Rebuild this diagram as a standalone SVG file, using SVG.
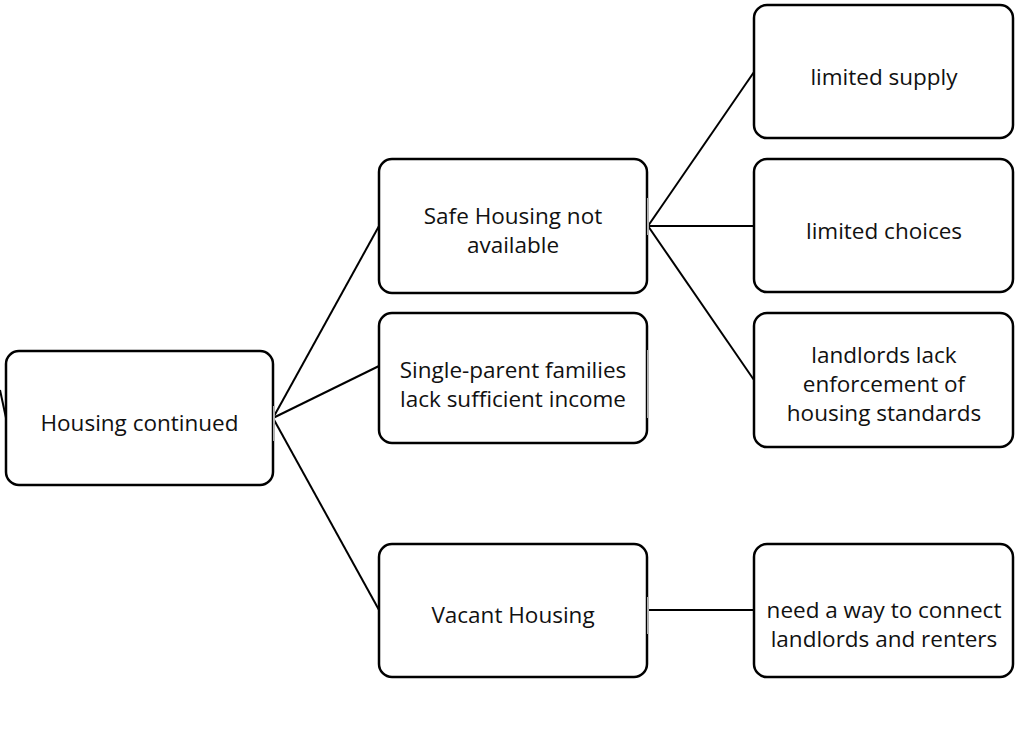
<svg xmlns="http://www.w3.org/2000/svg" width="1015" height="754" viewBox="0 0 1015 754">
  <style>
    .box { fill: #ffffff; stroke: #000000; stroke-width: 2.5; }
    .conn { stroke: #000000; stroke-width: 2; fill: none; }
    .tick { stroke: #b0b0b0; stroke-width: 2; }
    text { font-family: "Open Sans", "Noto Sans", sans-serif; font-size: 22.5px; fill: #111111; text-anchor: middle; }
  </style>
  <rect width="1015" height="754" fill="#ffffff"/>
  <g id="connectors">
    <line class="conn" x1="0" y1="390" x2="6" y2="418"/>
    <line class="conn" x1="273" y1="418" x2="379" y2="226"/>
    <line class="conn" x1="273" y1="418" x2="379" y2="366"/>
    <line class="conn" x1="273" y1="418" x2="379" y2="610"/>
    <line class="conn" x1="648" y1="226" x2="754" y2="72"/>
    <line class="conn" x1="648" y1="226" x2="754" y2="226"/>
    <line class="conn" x1="648" y1="226" x2="754" y2="380"/>
    <line class="conn" x1="648" y1="610" x2="754" y2="610"/>
  </g>
  <g id="node-housing-continued">
    <rect class="box" x="6" y="351" width="267" height="134" rx="13"/>
    <line class="tick" x1="274" y1="406" x2="274" y2="441"/>
    <text x="139.5" y="431">Housing continued</text>
  </g>
  <g id="node-safe-housing">
    <rect class="box" x="379" y="159" width="268" height="134" rx="13"/>
    <line class="tick" x1="648" y1="198" x2="648" y2="235"/>
    <text x="513" y="224">Safe Housing not</text>
    <text x="513" y="253">available</text>
  </g>
  <g id="node-single-parent">
    <rect class="box" x="379" y="313" width="268" height="130" rx="13"/>
    <line class="tick" x1="648" y1="350" x2="648" y2="418"/>
    <text x="513" y="378">Single-parent families</text>
    <text x="513" y="407">lack sufficient income</text>
  </g>
  <g id="node-vacant-housing">
    <rect class="box" x="379" y="544" width="268" height="133" rx="13"/>
    <line class="tick" x1="648" y1="597" x2="648" y2="634"/>
    <text x="513" y="623">Vacant Housing</text>
  </g>
  <g id="node-limited-supply">
    <rect class="box" x="754" y="5" width="259" height="133" rx="13"/>
    <text x="884" y="85">limited supply</text>
  </g>
  <g id="node-limited-choices">
    <rect class="box" x="754" y="159" width="259" height="133" rx="13"/>
    <text x="884" y="239">limited choices</text>
  </g>
  <g id="node-landlords-lack">
    <rect class="box" x="754" y="313" width="259" height="134" rx="13"/>
    <text x="884" y="363">landlords lack</text>
    <text x="884" y="392">enforcement of</text>
    <text x="884" y="421">housing standards</text>
  </g>
  <g id="node-need-a-way">
    <rect class="box" x="754" y="544" width="259" height="133" rx="13"/>
    <text x="884" y="618">need a way to connect</text>
    <text x="884" y="647">landlords and renters</text>
  </g>
</svg>
